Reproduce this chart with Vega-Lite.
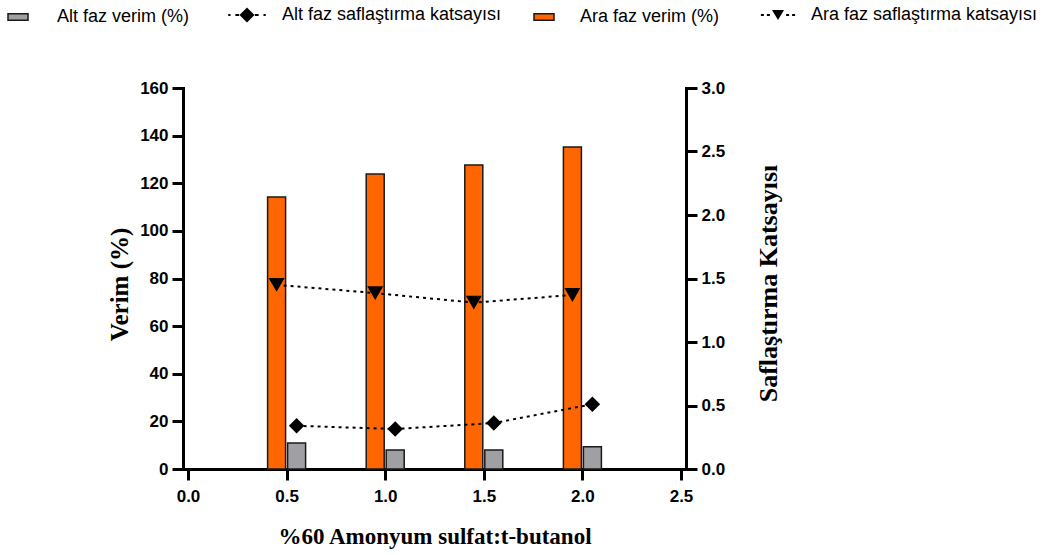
{
  "$schema": "https://vega.github.io/schema/vega-lite/v6.json",
  "width": 503,
  "height": 381,
  "autosize": "none",
  "padding": {"left": 183, "top": 88, "right": 368, "bottom": 86},
  "background": "white",
  "config": {
    "view": {"stroke": null},
    "axis": {
      "grid": false,
      "domainColor": "#000",
      "domainWidth": 3,
      "domainCap": "square",
      "tickColor": "#000",
      "tickWidth": 3,
      "tickSize": 11,
      "labelFlush": false,
      "labelFont": "Liberation Sans",
      "labelFontWeight": "bold",
      "labelFontSize": 17,
      "labelColor": "#000",
      "labelPadding": 4,
      "titleFont": "Liberation Serif",
      "titleFontWeight": "bold",
      "titleColor": "#000"
    },
    "legend": {
      "orient": "none",
      "padding": 0,
      "labelFont": "Liberation Sans",
      "labelFontSize": 18,
      "labelColor": "#000",
      "labelLimit": 400
    }
  },
  "data": {
    "values": [
      {"oran": 0.5, "faz": "Ara", "verim": 114.2, "katsayi": 1.45},
      {"oran": 1.0, "faz": "Ara", "verim": 123.9, "katsayi": 1.385},
      {"oran": 1.5, "faz": "Ara", "verim": 127.7, "katsayi": 1.31},
      {"oran": 2.0, "faz": "Ara", "verim": 135.2, "katsayi": 1.37},
      {"oran": 0.5, "faz": "Alt", "verim": 10.9, "katsayi": 0.34},
      {"oran": 1.0, "faz": "Alt", "verim": 8.0, "katsayi": 0.315},
      {"oran": 1.5, "faz": "Alt", "verim": 8.0, "katsayi": 0.362},
      {"oran": 2.0, "faz": "Alt", "verim": 9.3, "katsayi": 0.51}
    ]
  },
  "encoding": {
    "x": {
      "field": "oran",
      "type": "quantitative",
      "scale": {"domain": [0, 2.5], "nice": false},
      "axis": {
        "values": [0, 0.5, 1, 1.5, 2, 2.5],
        "format": ".1f",
        "labelPadding": 8,
        "title": "%60 Amonyum sulfat:t-butanol",
        "titleFontSize": 23,
        "titleBaseline": "middle",
        "titleY": 67
      }
    }
  },
  "layer": [
    {
      "transform": [{"filter": "datum.faz === 'Ara'"}],
      "mark": {"type": "bar", "xOffset": -10, "size": 18, "stroke": "#1a1a1a", "strokeWidth": 1.5},
      "encoding": {
        "y": {
          "field": "verim",
          "type": "quantitative",
          "scale": {"domain": [0, 160], "nice": false},
          "axis": {
            "orient": "left",
            "values": [0, 20, 40, 60, 80, 100, 120, 140, 160],
            "title": "Verim (%)",
            "titleFontSize": 25,
            "titleAngle": -90,
            "titleBaseline": "middle",
            "titleX": -64,
            "titleY": 196
          }
        },
        "fill": {
          "datum": "Ara faz verim (%)",
          "scale": {"range": ["#ff6600"]},
          "legend": {
            "title": null,
            "legendX": 350,
            "legendY": -82,
            "symbolType": "M-1,-0.33H1V0.33H-1Z",
            "symbolSize": 400,
            "symbolStrokeColor": "#1a1a1a",
            "symbolStrokeWidth": 1.5,
            "labelOffset": 25
          }
        }
      }
    },
    {
      "transform": [{"filter": "datum.faz === 'Alt'"}],
      "mark": {"type": "bar", "xOffset": 10, "size": 18, "stroke": "#1a1a1a", "strokeWidth": 1.5},
      "encoding": {
        "y": {
          "field": "verim",
          "type": "quantitative",
          "scale": {"domain": [0, 160], "nice": false},
          "axis": null
        },
        "fill": {
          "datum": "Alt faz verim (%)",
          "scale": {"range": ["#a09fa4"]},
          "legend": {
            "title": null,
            "legendX": -176,
            "legendY": -82,
            "symbolType": "M-1,-0.33H1V0.33H-1Z",
            "symbolSize": 400,
            "symbolStrokeColor": "#1a1a1a",
            "symbolStrokeWidth": 1.5,
            "labelOffset": 28
          }
        }
      }
    },
    {
      "transform": [{"filter": "datum.faz === 'Ara'"}],
      "mark": {"type": "line", "xOffset": -10, "color": "#000", "strokeWidth": 2, "strokeDash": [3, 4]},
      "encoding": {
        "y": {
          "field": "katsayi",
          "type": "quantitative",
          "scale": {"domain": [0, 3], "nice": false},
          "axis": {
            "orient": "right",
            "values": [0, 0.5, 1, 1.5, 2, 2.5, 3],
            "format": ".1f",
            "title": "Saflaştırma Katsayısı",
            "titleFontSize": 26,
            "titleAngle": -90,
            "titleBaseline": "middle",
            "titleX": 82,
            "titleY": 195
          }
        }
      }
    },
    {
      "transform": [{"filter": "datum.faz === 'Alt'"}],
      "mark": {"type": "line", "xOffset": 10, "color": "#000", "strokeWidth": 2, "strokeDash": [3, 4]},
      "encoding": {
        "y": {
          "field": "katsayi",
          "type": "quantitative",
          "scale": {"domain": [0, 3], "nice": false},
          "axis": null
        }
      }
    },
    {
      "transform": [{"filter": "datum.faz === 'Ara'"}],
      "mark": {"type": "point", "shape": "triangle-down", "filled": true, "size": 256, "opacity": 1, "xOffset": -10},
      "encoding": {
        "y": {
          "field": "katsayi",
          "type": "quantitative",
          "scale": {"domain": [0, 3], "nice": false},
          "axis": null
        },
        "fill": {
          "datum": "Ara faz saflaştırma katsayısı",
          "scale": {"range": ["#000"]},
          "legend": {
            "title": null,
            "legendX": 586,
            "legendY": -82,
            "symbolType": "M-1,-0.85L1,-0.85L0,0.85Z M-2.85,-0.17H-2.35V0.17H-2.85Z M-1.85,-0.17H-1.35V0.17H-1.85Z M1.35,-0.17H1.85V0.17H1.35Z M2.35,-0.17H2.85V0.17H2.35Z",
            "symbolSize": 144,
            "symbolStrokeWidth": 0,
            "labelOffset": 24
          }
        }
      }
    },
    {
      "transform": [{"filter": "datum.faz === 'Alt'"}],
      "mark": {"type": "point", "shape": "diamond", "filled": true, "size": 240, "opacity": 1, "xOffset": 10},
      "encoding": {
        "y": {
          "field": "katsayi",
          "type": "quantitative",
          "scale": {"domain": [0, 3], "nice": false},
          "axis": null
        },
        "fill": {
          "datum": "Alt faz saflaştırma katsayısı",
          "scale": {"range": ["#000"]},
          "legend": {
            "title": null,
            "legendX": 55,
            "legendY": -82,
            "symbolType": "M0,-1L1,0L0,1L-1,0Z M-2.5,-0.14H-2.2V0.14H-2.5Z M-1.55,-0.14H-1.05V0.14H-1.55Z M1.05,-0.14H1.55V0.14H1.05Z M2.2,-0.14H2.5V0.14H2.2Z",
            "symbolSize": 225,
            "symbolStrokeWidth": 0,
            "labelOffset": 26
          }
        }
      }
    }
  ],
  "resolve": {
    "scale": {"y": "independent", "fill": "independent"},
    "axis": {"y": "independent"},
    "legend": {"fill": "independent"}
  }
}
